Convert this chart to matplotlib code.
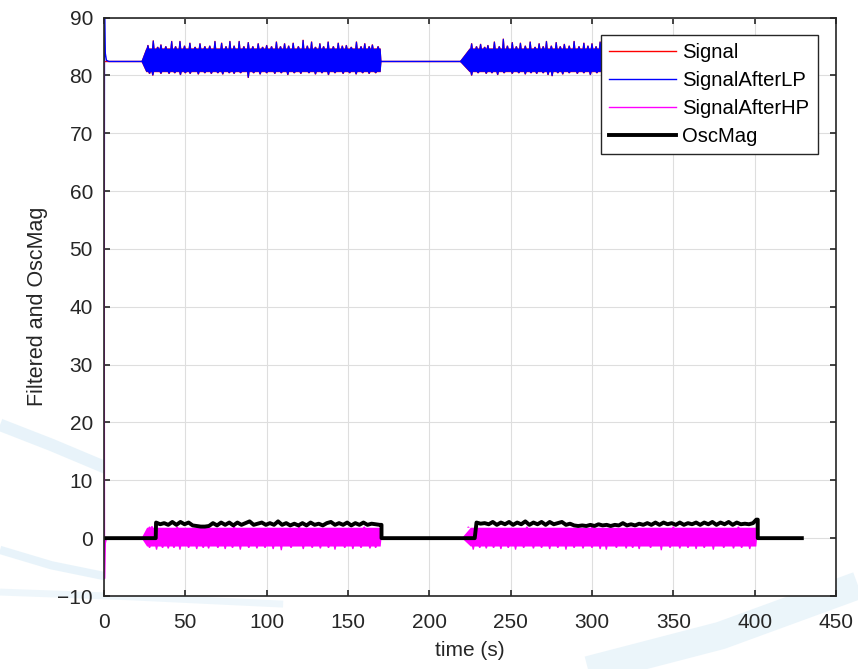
import numpy as np
import matplotlib.pyplot as plt
from matplotlib.lines import Line2D

plt.rcParams['font.family'] = ['Liberation Sans', 'DejaVu Sans']

# quiet level of the raw / low-passed signal
BASE = 82.4
T_END = 429

# start-up transient of the filters
T_START = [0, 0.3, 0.7, 1.5, 3]
LP_START = [0, 92, 84, 82.6, BASE]
HP_START = [BASE, -7, -1, 0, 0]

# bursts: (start, full amplitude, end) in seconds
LP_BURSTS = [(23.0, 26.0, 170.6), (218.7, 224.8, 401.5)]
HP_BURSTS = [(23.1, 26.5, 170.6), (220.0, 225.5, 401.5)]

# low-passed signal: usual envelope edges and the spikes beyond them
LP_TOP, LP_BOT = 84.6, 80.6
LP1_UP_T = [27, 30.3, 33, 35, 38, 41.6, 44, 46.7, 49.5, 52.8, 56, 59, 62, 65, 68.2, 72.3, 75,
            77.4, 80, 83.1, 86, 88.7, 91.5, 94.8, 97.5, 100, 103, 106, 108.5, 111, 113.5,
            116.3, 119.5, 122.4, 125, 127.6, 130, 132.7, 135, 137.8, 141, 144, 146.5, 149,
            152, 155.2, 158, 160.3, 163, 165, 168.5]
LP1_UP_V = [85.2, 86.0, 84.9, 85.3, 85.0, 85.9, 85.0, 85.9, 85.1, 85.6, 84.9, 85.5, 85.0,
            85.1, 85.9, 85.6, 85.0, 85.9, 85.1, 85.9, 85.0, 85.7, 85.0, 85.5, 84.9, 85.2,
            85.0, 85.8, 85.0, 85.5, 85.1, 85.6, 85.0, 86.1, 85.1, 85.8, 84.9, 85.5, 85.0,
            85.8, 85.0, 85.6, 85.1, 85.2, 84.9, 85.8, 85.0, 85.5, 85.0, 85.3, 85.0]
LP1_LO_T = [28, 30, 35, 40, 43.5, 47, 50, 53, 58, 62, 66, 70, 73, 77, 80, 84, 88.7, 92, 96,
            100, 105, 109, 113, 117, 121, 126, 130, 134, 138, 142, 147, 151, 155, 159, 163,
            167]
LP1_LO_V = [80.3, 80.0, 80.3, 80.3, 80.4, 80.1, 80.4, 80.3, 80.2, 80.4, 80.3, 80.4, 80.2,
            80.4, 80.3, 80.4, 79.6, 80.4, 80.2, 80.4, 80.3, 80.4, 80.1, 80.4, 80.3, 80.4,
            80.2, 80.4, 80.1, 80.4, 80.3, 80.4, 80.2, 80.4, 80.3, 80.4]
LP2_UP_T = [226, 229, 231.5, 234, 236, 240, 243, 245.5, 248, 251, 253.5, 256, 259, 262, 265,
            267.5, 270, 272, 275, 278, 280.5, 283, 286, 289, 292, 295, 297.5, 300, 302.5,
            305, 312, 320, 328, 336, 345, 353, 361, 370, 378, 386, 394]
LP2_UP_V = [85.5, 85.0, 85.4, 84.9, 85.2, 85.8, 85.0, 86.3, 85.1, 85.7, 85.0, 85.6, 85.1,
            85.8, 84.9, 85.5, 85.0, 85.9, 85.1, 85.7, 85.0, 85.4, 85.1, 85.9, 85.0, 85.6,
            85.1, 85.5, 85.0, 85.8, 85.6, 85.7, 85.5, 85.8, 85.6, 85.7, 85.5, 85.8, 85.6,
            85.7, 85.5]
LP2_LO_T = [226, 230, 235, 238.5, 242, 246, 251, 255, 259, 262.5, 266, 270, 273, 275.5, 279,
            282, 286, 291, 295, 299, 303, 310, 322, 335, 348, 360, 372, 385, 396]
LP2_LO_V = [80.0, 80.4, 80.3, 80.4, 80.1, 80.4, 80.3, 80.4, 80.2, 80.4, 80.3, 80.4, 80.1,
            79.9, 80.4, 80.2, 80.4, 80.3, 80.4, 80.1, 80.4, 80.2, 80.3, 80.2, 80.1, 80.3,
            80.2, 80.3, 80.2]

# high-passed signal
HP_TOP, HP_BOT = 1.8, -1.45
HP1_UP_T = [28, 29.5, 45, 80, 120, 160]
HP1_UP_V = [2.0, 2.1, 2.0, 2.0, 2.0, 2.0]
HP1_LO_T = [28, 32.3, 36, 39.5, 43, 46.7, 52, 57, 61, 64.3, 70, 74.5, 79, 83.8, 89, 94, 99,
            104, 109, 115, 122.5, 128, 133, 138, 142, 148, 153, 158, 163.5, 167]
HP1_LO_V = [-1.7, -2.0, -1.7, -1.8, -1.7, -2.0, -1.7, -1.9, -1.7, -1.8, -1.7, -1.9, -1.7,
            -2.0, -1.7, -1.8, -1.7, -1.9, -2.1, -1.7, -1.9, -1.7, -1.8, -1.7, -2.0, -1.7,
            -1.9, -1.7, -1.8, -1.7]
HP2_UP_T = [224, 260, 300, 350, 390]
HP2_UP_V = [2.0, 2.0, 2.0, 2.0, 2.0]
HP2_LO_T = [227, 231, 235, 239.5, 244, 248.5, 253, 258, 264, 269, 274, 279, 284, 289,
            294.5, 300, 305, 308.8, 315, 321, 325, 329, 336, 342.6, 348, 354, 359, 364, 369,
            374.6, 381, 387, 392, 397]
HP2_LO_V = [-2.0, -1.7, -1.8, -1.7, -1.9, -1.7, -2.0, -1.7, -1.8, -1.7, -1.9, -1.7, -2.0,
            -1.7, -1.8, -1.7, -1.9, -2.0, -1.7, -1.8, -1.7, -1.9, -1.7, -2.1, -1.7, -1.8,
            -1.7, -1.9, -1.7, -2.0, -1.7, -1.8, -1.7, -1.9]

# oscillation magnitude, every 2.5 s while active
OSC_ON1, OSC_OFF1 = 31.8, 170.6
OSC_ON2, OSC_OFF2 = 227.9, 401.9
OSC1_T = np.arange(32, 170, 2.5)
OSC1 = [2.7, 2.4, 2.6, 2.3, 2.8, 2.3, 2.8, 2.4, 2.7, 2.2,
        2.1, 2.0, 2.0, 2.1, 2.6, 2.2, 2.7, 2.3, 2.7, 2.2,
        2.7, 2.3, 2.6, 2.9, 2.3, 2.5, 2.7, 2.3, 2.6, 2.3,
        2.9, 2.3, 2.6, 2.2, 2.5, 2.2, 2.6, 2.2, 2.7, 2.3,
        2.5, 2.2, 2.6, 2.8, 2.3, 2.6, 2.3, 2.7, 2.2, 2.6,
        2.3, 2.7, 2.3, 2.5, 2.4, 2.3]
OSC2_T = np.arange(229, 400, 2.5)
OSC2 = [2.7, 2.5, 2.6, 2.4, 2.8, 2.3, 2.7, 2.4, 2.8, 2.3,
        2.7, 2.4, 2.9, 2.3, 2.7, 2.4, 2.8, 2.3, 2.8, 2.4,
        2.6, 2.8, 2.3, 2.5, 2.2, 2.1, 2.2, 2.1, 2.3, 2.1,
        2.4, 2.2, 2.3, 2.1, 2.3, 2.2, 2.6, 2.2, 2.4, 2.2,
        2.5, 2.3, 2.6, 2.3, 2.7, 2.3, 2.7, 2.4, 2.6, 2.3,
        2.7, 2.3, 2.6, 2.4, 2.7, 2.3, 2.7, 2.4, 2.8, 2.3,
        2.7, 2.4, 2.8, 2.3, 2.7, 2.4, 2.5, 2.4, 2.6]
OSC_LAST = 3.2


def edge(burst, level, base, spike_t, spike_v):
    t_on, t_full, t_off = burst
    t, v = [t_on, t_full], [base, level]
    for ts, vs in zip(spike_t, spike_v):
        t += [ts - 0.8, ts - 0.35, ts + 0.35, ts + 0.8]
        v += [level, vs, vs, level]
    t += [t_off - 0.5, t_off]
    v += [level, base]
    return t, v


def burst_polygon(burst, base, top, bot, up_t, up_v, lo_t, lo_v, grow=0.0):
    ut, uv = edge(burst, top + grow, base, up_t, np.array(up_v) + grow)
    lt, lv = edge(burst, bot - grow, base, lo_t, np.array(lo_v) - grow)
    return ut + lt[::-1], list(uv) + list(lv[::-1])


fig = plt.figure(figsize=(8.58, 6.69), dpi=100)

# faint watermark swooshes behind the axes
sw = dict(color='#e3f1f9', solid_capstyle='butt', zorder=0)
fig.add_artist(Line2D([0, 0.06, 0.125], [0.365, 0.335, 0.30], lw=9, alpha=0.8, **sw))
fig.add_artist(Line2D([0, 0.06, 0.125], [0.178, 0.155, 0.138], lw=6, alpha=0.8, **sw))
fig.add_artist(Line2D([0, 0.15, 0.33], [0.115, 0.108, 0.097], lw=5, alpha=0.6, **sw))
fig.add_artist(Line2D([0.66, 0.84, 1.0], [-0.01, 0.05, 0.125], lw=20, alpha=0.7, **sw))

ax = fig.add_axes([104 / 858, 73 / 669, 732 / 858, 578.5 / 669])

t_quiet = np.concatenate([T_START, [T_END]])
lp_quiet = np.concatenate([LP_START, [BASE]])
hp_quiet = np.concatenate([HP_START, [0]])
sig_quiet = [BASE] * len(t_quiet)

lp_sets = [(LP_BURSTS[0], LP1_UP_T, LP1_UP_V, LP1_LO_T, LP1_LO_V),
           (LP_BURSTS[1], LP2_UP_T, LP2_UP_V, LP2_LO_T, LP2_LO_V)]
hp_sets = [(HP_BURSTS[0], HP1_UP_T, HP1_UP_V, HP1_LO_T, HP1_LO_V),
           (HP_BURSTS[1], HP2_UP_T, HP2_UP_V, HP2_LO_T, HP2_LO_V)]

ax.plot(t_quiet, sig_quiet, color='red', lw=1.0, label='Signal', zorder=2)
for b, ut, uv, lt, lv in lp_sets:
    px, py = burst_polygon(b, BASE, LP_TOP, LP_BOT, ut, uv, lt, lv, grow=0.06)
    ax.fill(px, py, color='red', lw=0, zorder=2)
ax.plot(t_quiet, lp_quiet, color='blue', lw=1.0, label='SignalAfterLP', zorder=3)
for b, ut, uv, lt, lv in lp_sets:
    px, py = burst_polygon(b, BASE, LP_TOP, LP_BOT, ut, uv, lt, lv)
    ax.fill(px, py, color='blue', lw=0, zorder=3)
ax.plot(t_quiet, hp_quiet, color='magenta', lw=1.0, label='SignalAfterHP', zorder=4)
for b, ut, uv, lt, lv in hp_sets:
    px, py = burst_polygon(b, 0, HP_TOP, HP_BOT, ut, uv, lt, lv)
    ax.fill(px, py, color='magenta', lw=0, zorder=4)

osc_t = np.concatenate([[0, OSC_ON1], OSC1_T, [OSC_OFF1, OSC_OFF1, OSC_ON2],
                        OSC2_T, [401, OSC_OFF2, OSC_OFF2, T_END]])
osc_v = np.concatenate([[0, 0], OSC1, [OSC1[-1], 0, 0],
                        OSC2, [OSC_LAST, OSC_LAST, 0, 0]])
ax.plot(osc_t, osc_v, color='black', lw=2.8, label='OscMag', zorder=5)

ax.set_xlim(0, 450)
ax.set_ylim(-10, 90)
ax.set_xticks(np.arange(0, 451, 50))
ax.set_yticks(np.arange(-10, 91, 10))
ax.grid(True, color='#dedede', lw=0.8)
ax.set_axisbelow(True)
ax.tick_params(direction='in', top=True, right=True, length=4, width=1.2,
               labelsize=15, colors='#262626')
ax.tick_params(axis='x', pad=12)
ax.tick_params(axis='y', pad=8)
for s in ax.spines.values():
    s.set_color('#262626')
    s.set_linewidth(1.2)
    s.set_zorder(6)
ax.set_xlabel('time (s)', fontsize=15, color='#262626', labelpad=7)
ax.set_ylabel('Filtered and OscMag', fontsize=15.5, color='#262626', labelpad=7)

leg = ax.legend(loc='upper right', bbox_to_anchor=(0.975, 0.97), borderaxespad=0,
                fontsize=14.6, fancybox=False, framealpha=1, edgecolor='#262626',
                handlelength=3.3, handletextpad=0.3, labelspacing=0.45,
                borderpad=0.4)
leg.get_frame().set_linewidth(1.0)
leg.set_zorder(7)

fig.savefig('out.png', dpi=100)
